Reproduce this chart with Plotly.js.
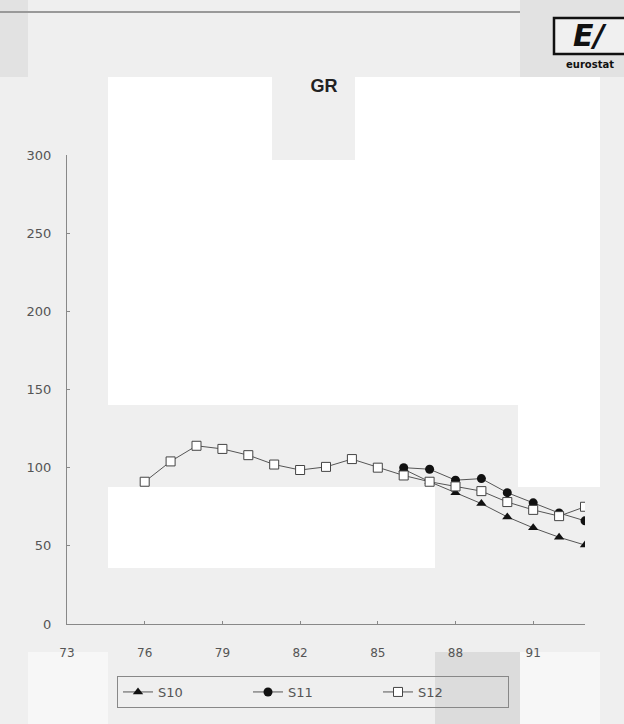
<!DOCTYPE html>
<html>
<head>
<meta charset="utf-8">
<script src="https://cdn.plot.ly/plotly-3.0.1.min.js"></script>
<style>html,body{margin:0;padding:0;background:#efefef;}#chart{width:624px;height:724px;}</style>
</head>
<body>
<div id="chart"></div>
<script>
const chartTitle = "GR";
const yearsS12 = [76,77,78,79,80,81,82,83,84,85,86,87,88,89,90,91,92,93];
const valuesS12 = [91,104,114,112,108,102,98.5,100.5,105.5,100,95,91,88,85,78,73,69,75];
const yearsS11 = [86,87,88,89,90,91,92,93];
const valuesS11 = [100,99,92,93,84,77.5,71,66];
const yearsS10 = [86,87,88,89,90,91,92,93];
const valuesS10 = [99,91,84,77,68.5,61.5,55.5,50.5];
const xTickVals = [73,76,79,82,85,88,91];
const yTickVals = [0,50,100,150,200,250,300];

const lineStyle = {color:'#555', width:1};
const traces = [
  {x:yearsS10, y:valuesS10, name:'S10', mode:'lines+markers', line:lineStyle,
   marker:{symbol:'triangle-up', size:9, color:'#111', line:{color:'#111', width:0}}},
  {x:yearsS11, y:valuesS11, name:'S11', mode:'lines+markers', line:lineStyle,
   marker:{symbol:'circle', size:9, color:'#111'}},
  {x:yearsS12, y:valuesS12, name:'S12', mode:'lines+markers', line:lineStyle,
   marker:{symbol:'square', size:9, color:'#fff', line:{color:'#444', width:1}}}
];

const px = v => (v-67)/518;
const py = v => (624-v)/469;
const rect = (x0,y0,x1,y1,fill) => ({type:'rect', xref:'paper', yref:'paper', layer:'below', line:{width:0}, fillcolor:fill,
  x0:px(x0), x1:px(x1), y0:py(y0), y1:py(y1)});

const shapes = [
  rect(0,0,28,77,'#e2e2e2'),
  rect(520,0,624,77,'#e2e2e2'),
  rect(108,77,272,405,'#ffffff'),
  rect(355,77,600,405,'#ffffff'),
  rect(272,160,355,405,'#ffffff'),
  rect(518,405,600,487,'#ffffff'),
  rect(108,487,435,568,'#ffffff'),
  rect(28,652,108,724,'#f7f7f7'),
  rect(520,652,600,724,'#f7f7f7'),
  rect(435,652,520,724,'#dcdcdc'),
  {type:'line', xref:'paper', yref:'paper', x0:px(0), x1:px(520), y0:py(12), y1:py(12), line:{color:'#999', width:2}},
  {type:'rect', xref:'paper', yref:'paper', layer:'below', x0:px(554), x1:px(626), y0:py(18), y1:py(54), line:{color:'#111', width:2.5}, fillcolor:'#f0f0f0'}
];

const layout = {
  width:624, height:724,
  paper_bgcolor:'#efefef', plot_bgcolor:'rgba(0,0,0,0)',
  margin:{l:67, r:39, t:155, b:100},
  title:{text:'<b>'+chartTitle+'</b>', x:324/624, xanchor:'center', y:1-86/724, yanchor:'middle',
         font:{family:'Liberation Sans, Arial, sans-serif', size:18, color:'#222'}},
  xaxis:{range:[73,93], tickvals:xTickVals, ticktext:xTickVals.map(String), showgrid:false, zeroline:false,
         showline:true, linecolor:'#888', linewidth:1, ticks:'inside', ticklen:3, tickcolor:'#888',
         ticklabelstandoff:18, tickfont:{family:'DejaVu Sans, sans-serif', size:12, color:'#555'}},
  yaxis:{range:[0,300], tickvals:yTickVals, showgrid:false, zeroline:false,
         showline:true, linecolor:'#888', linewidth:1, ticks:'inside', ticklen:3, tickcolor:'#888',
         ticklabelstandoff:12, tickfont:{family:'DejaVu Sans, sans-serif', size:13, color:'#555'}},
  legend:{orientation:'h', x:px(313), xanchor:'center', y:py(692), yanchor:'middle',
          bgcolor:'rgba(0,0,0,0)', bordercolor:'#888', borderwidth:1,
          font:{family:'DejaVu Sans, sans-serif', size:13, color:'#555'}, itemwidth:30,
          entrywidth:85, entrywidthmode:'pixels'},
  shapes:shapes,
  annotations:[
    {xref:'paper', yref:'paper', x:px(590), y:py(36), xanchor:'center', yanchor:'middle', text:'<b><i>E/</i></b>', showarrow:false,
     font:{family:'DejaVu Sans, sans-serif', size:30, color:'#111'}},
    {xref:'paper', yref:'paper', x:px(590), y:py(64), xanchor:'center', yanchor:'middle', text:'<b>eurostat</b>', showarrow:false,
     font:{family:'DejaVu Sans, sans-serif', size:10, color:'#111'}}
  ],
  showlegend:true
};

Plotly.newPlot('chart', traces, layout, {staticPlot:true, displayModeBar:false});
</script>
</body>
</html>
